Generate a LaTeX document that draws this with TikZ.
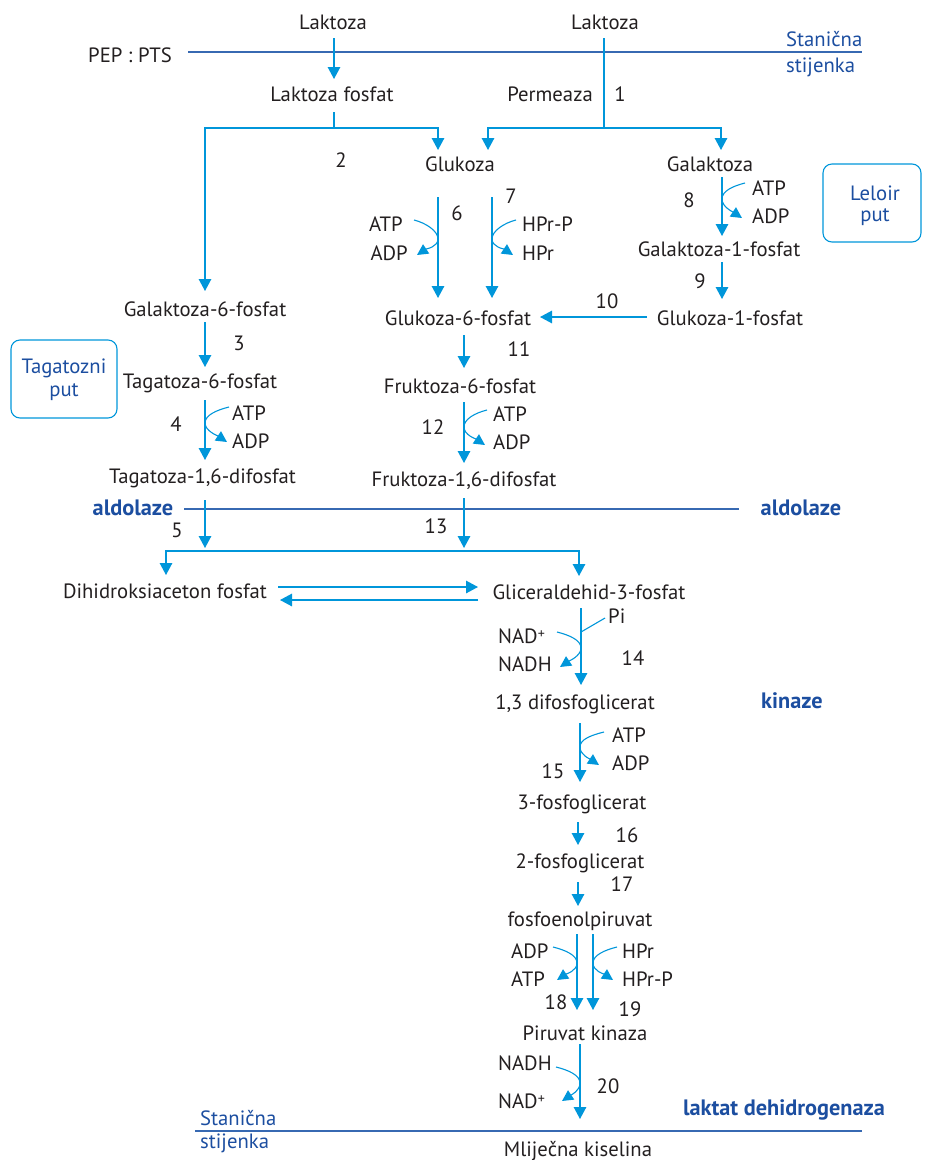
\documentclass[tikz,border=0pt]{standalone}
\usepackage{fontspec}
\setmainfont{PT Sans}
\usetikzlibrary{arrows.meta,calc}

\definecolor{flow}{RGB}{0,150,218}
\definecolor{deep}{RGB}{28,78,160}
\definecolor{wall}{RGB}{55,105,178}
\definecolor{ink}{RGB}{35,31,32}

% curved side reaction (co-substrate in, product out) touching the main arrow
\newcommand\cofL[3]{\draw[side] (#1) .. controls +(12,3) and +(0,-8) .. (#2) .. controls +(0,8) and +(9,-6) .. (#3);}
\newcommand\cofR[3]{\draw[side] (#1) .. controls +(-12,3) and +(0,-8) .. (#2) .. controls +(0,8) and +(-9,-6) .. (#3);}
% oxidised NAD with a raised plus sign
\newcommand\nadox{NAD\raisebox{5pt}{\fontsize{14}{14}\selectfont+}}

\begin{document}
\begin{tikzpicture}[x=1pt,y=-1pt,
  font=\fontsize{20.7}{24}\selectfont,
  t/.style={inner sep=0pt, anchor=base, text=ink},
  tw/.style={t, anchor=base west},
  te/.style={t, anchor=base east},
  enz/.style={inner sep=0pt, anchor=base, text=deep, font=\fontsize{22.3}{26}\selectfont\bfseries},
  wl/.style={inner sep=0pt, text=deep},
  arr/.style={draw=flow, line width=1.4pt, -{Triangle[length=12pt,width=12.5pt]}},
  ln/.style={draw=flow, line width=1.4pt},
  side/.style={draw=flow, line width=1.1pt, -{Triangle[length=11pt,width=11pt]}},
  mem/.style={draw=wall, line width=1.4pt},
  pathbox/.style={draw=flow, line width=1.1pt, rounded corners=9pt}]

\useasboundingbox (0,0) rectangle (925,1160);

% ---- cell wall lines and enzyme names
\draw[mem] (188,52) -- (862,52);
\node[wl, anchor=base west] (wt1) at (786,46) {Stanična};
\node[wl, anchor=base west] (wt2) at (786,72) {stijenka};
\draw[mem] (184,509) -- (739,509);
\node[enz] (aldL) at (133,515) {aldolaze};
\node[enz] (aldR) at (801,515) {aldolaze};
\node[enz] (kin) at (792,708) {kinaze};
\node[enz] (ldh) at (784,1115) {laktat dehidrogenaza};
\draw[mem] (195,1131) -- (862,1131);
\node[wl, anchor=base west] (wb1) at (200,1125) {Stanična};
\node[wl, anchor=base west] (wb2) at (200,1148) {stijenka};

% ---- pathway boxes
\draw[pathbox] (823,164) rectangle (921,242);
\node[wl, anchor=base] (lel1) at (875,200) {Leloir};
\node[wl, anchor=base] (lel2) at (875,221) {put};
\draw[pathbox] (11,340) rectangle (117,418);
\node[wl, anchor=base] (tag1) at (64,373) {Tagatozni};
\node[wl, anchor=base] (tag2) at (64,396) {put};

% ---- metabolites
\node[t] (lakL) at (333,29) {Laktoza};
\node[t] (lakR) at (605,29) {Laktoza};
\node[t] (pts) at (130,62) {PEP : PTS};
\node[t] (lakf) at (332,101) {Laktoza fosfat};
\node[t] (perm) at (550,101) {Permeaza};
\node[t] (glu) at (460,171) {Glukoza};
\node[t] (gal) at (710,171) {Galaktoza};
\node[t] (gal1p) at (719,256) {Galaktoza-1-fosfat};
\node[t] (g1p) at (730,325) {Glukoza-1-fosfat};
\node[t] (g6p) at (458,325) {Glukoza-6-fosfat};
\node[t] (gal6p) at (205,316) {Galaktoza-6-fosfat};
\node[t] (tag6p) at (200,388) {Tagatoza-6-fosfat};
\node[t] (tag16) at (202.5,483) {Tagatoza-1,6-difosfat};
\node[t] (fru6p) at (460,393) {Fruktoza-6-fosfat};
\node[t] (fru16) at (464,486) {Fruktoza-1,6-difosfat};
\node[t] (dhap) at (165,598) {Dihidroksiaceton fosfat};
\node[t] (gap) at (589,599) {Gliceraldehid-3-fosfat};
\node[t] (bpg) at (575,709) {1,3 difosfoglicerat};
\node[t] (pg3) at (582,809) {3-fosfoglicerat};
\node[t] (pg2) at (580,868) {2-fosfoglicerat};
\node[t] (pep) at (580,926) {fosfoenolpiruvat};
\node[t] (pyr) at (585,1040) {Piruvat kinaza};
\node[t] (mlij) at (578,1156) {Mliječna kiselina};

% ---- co-substrates
\node[te] (atp6) at (403,231) {ATP};
\node[te] (adp6) at (408,260) {ADP};
\node[tw] (hprp7) at (522,231) {HPr-P};
\node[tw] (hpr7) at (522,260) {HPr};
\node[tw] (atp8) at (752,195) {ATP};
\node[tw] (adp8) at (752,223) {ADP};
\node[tw] (atp4) at (232,420) {ATP};
\node[tw] (adp4) at (232,448) {ADP};
\node[tw] (atp12) at (493,421) {ATP};
\node[tw] (adp12) at (493,449) {ADP};
\node[tw] (pi) at (608,623) {Pi};
\node[tw] (nad14) at (498,643) {\nadox};
\node[tw] (nadh14) at (498,671) {NADH};
\node[tw] (atp15) at (612,742) {ATP};
\node[tw] (adp15) at (612,770) {ADP};
\node[tw] (adp18) at (511,958) {ADP};
\node[tw] (atp18) at (511,986) {ATP};
\node[tw] (hpr19) at (622,958) {HPr};
\node[tw] (hprp19) at (622,986) {HPr-P};
\node[tw] (nadh20) at (498,1070) {NADH};
\node[tw] (nad20) at (498,1108) {\nadox};

% ---- reaction numbers
\node[t] (r1) at (620,101) {1};
\node[t] (r2) at (341,167) {2};
\node[t] (r3) at (239,350) {3};
\node[t] (r4) at (176,431) {4};
\node[t] (r5) at (177,537) {5};
\node[t] (r6) at (457,220) {6};
\node[t] (r7) at (511,203) {7};
\node[t] (r8) at (689,207) {8};
\node[t] (r9) at (700,288) {9};
\node[t] (r10) at (607,308) {10};
\node[t] (r11) at (519,356) {11};
\node[t] (r12) at (433,434) {12};
\node[t] (r13) at (436,533) {13};
\node[t] (r14) at (633,665) {14};
\node[t] (r15) at (553,778) {15};
\node[t] (r16) at (627,842) {16};
\node[t] (r17) at (622,891) {17};
\node[t] (r18) at (556,1009) {18};
\node[t] (r19) at (630,1016) {19};
\node[t] (r20) at (608,1093) {20};

% ---- lactose uptake
\draw[arr] ($(lakL.base)+(1,9)$) -- ($(lakf.base)+(2,-22)$);
\coordinate (brR) at (604,128);
\coordinate (brL) at (334,128);
\draw[ln] ($(lakR.base)+(-1,9)$) -- (brR);
\draw[arr] (brR) -| ($(glu.base)+(28,-21)$);
\draw[arr] (brR) -| ($(gal.base)+(11,-21)$);
\draw[ln] ($(lakf.base)+(2,11)$) -- (brL);
\draw[arr] (brL) -| ($(glu.base)+(-22,-21)$);
\draw[arr] (brL) -| ($(gal6p.base)+(0,-25)$);

% ---- glucose
\draw[arr] ($(glu.base)+(-22,26)$) -- ($(g6p.base)+(-20,-27)$);
\draw[arr] ($(glu.base)+(32,26)$) -- ($(g6p.base)+(34,-27)$);
\cofL{414,220}{438,239}{417,255}
\cofR{516,220}{492,239}{513,255}

% ---- Leloir pathway
\draw[arr] ($(gal.base)+(12,6)$) -- ($(gal1p.base)+(3,-20)$);
\cofR{745,183}{722,199}{742,218}
\draw[arr] ($(gal1p.base)+(3,6)$) -- ($(g1p.base)+(-8,-26)$);
\draw[arr] ($(g1p.base)+(-83,-8)$) -- ($(g6p.base)+(82,-8)$);

% ---- tagatose pathway
\draw[arr] ($(gal6p.base)+(0,6)$) -- ($(tag6p.base)+(5,-21)$);
\draw[arr] ($(tag6p.base)+(5,12)$) -- ($(tag16.base)+(2.5,-23)$);
\cofR{229,407}{205,423}{227,442}

% ---- glycolysis, upper part
\draw[arr] ($(g6p.base)+(6,10)$) -- ($(fru6p.base)+(4,-25)$);
\draw[arr] ($(fru6p.base)+(4,9)$) -- ($(fru16.base)+(0,-23)$);
\cofR{487,410}{464,427}{485,445}

% ---- aldolase split
\coordinate (split) at (464,551);
\draw[arr] ($(tag16.base)+(2.5,17)$) -- ($(tag16.base)+(2.5,65)$);
\draw[arr] ($(fru16.base)+(0,12)$) -- ($(fru16.base)+(0,62)$);
\draw[arr] (split) -| ($(dhap.base)+(1,-23)$);
\draw[arr] (split) -| ($(gap.base)+(-10,-23)$);
\draw[arr] ($(dhap.base)+(113,-11)$) -- ($(gap.base)+(-111,-12)$);
\draw[arr] ($(gap.base)+(-111,1)$) -- ($(dhap.base)+(115,2)$);

% ---- glycolysis, lower part
\draw[arr] ($(gap.base)+(-8,9)$) -- ($(bpg.base)+(6,-24)$);
\draw[ln, line width=1.1pt] ($(pi.base west)+(-3,-5)$) -- (581,632);
\cofL{557,632}{581,648}{560,667}
\draw[arr] ($(bpg.base)+(5,14)$) -- ($(pg3.base)+(-2,-27)$);
\cofR{604,732}{580,747}{599,765}
\draw[arr] ($(pg3.base)+(-4,13)$) -- ($(pg2.base)+(-2,-23)$);
\draw[arr] ($(pg2.base)+(-2,14)$) -- ($(pep.base)+(-2,-20)$);
\draw[arr] ($(pep.base)+(-3,8)$) -- ($(pyr.base)+(-8,-30)$);
\draw[arr] ($(pep.base)+(13,8)$) -- ($(pyr.base)+(8,-30)$);
\cofL{553,947}{577,963}{557,980}
\cofR{617,947}{593,963}{613,980}
\draw[arr] ($(pyr.base)+(-5,4)$) -- ($(mlij.base)+(2,-37)$);
\cofL{556,1067}{580,1083}{562,1101}

\end{tikzpicture}
\end{document}
